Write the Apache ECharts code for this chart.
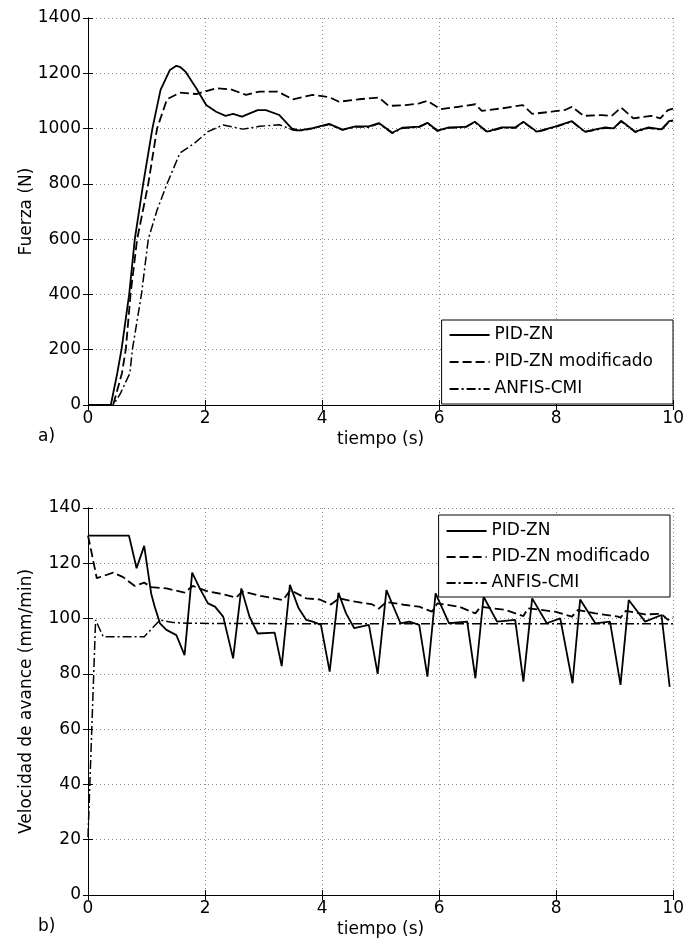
<!DOCTYPE html>
<html>
<head>
<meta charset="utf-8">
<script src="https://cdn.jsdelivr.net/npm/echarts@6/dist/echarts.min.js"></script>
<style>
html,body{margin:0;padding:0;background:#fff;}
#c{width:687px;height:944px;}
</style>
</head>
<body>
<div id="c"></div>
<script>
// ---- Data (time in s, values) ----
const seriesNames = ['PID-ZN', 'PID-ZN modificado', 'ANFIS-CMI'];
const xTicks = [0, 2, 4, 6, 8, 10];
const fuerzaTicks = [0, 200, 400, 600, 800, 1000, 1200, 1400];
const velTicks = [0, 20, 40, 60, 80, 100, 120, 140];

// (a) Fuerza (N)
const fuerzaPidZN = [[0,0],[0.39,0],[0.50,115],[0.574,203],[0.704,401],[0.80,600],[0.886,720],[0.943,800],[1.10,1000],[1.24,1140],[1.40,1212],[1.51,1227],[1.58,1222],[1.67,1205],[1.85,1146],[2.02,1085],[2.19,1061],[2.35,1046],[2.48,1053],[2.63,1043],[2.90,1067],[3.04,1067],[3.27,1049],[3.48,1001],[3.61,993],[3.84,1002],[4.12,1017],[4.35,996],[4.57,1008],[4.80,1008],[4.97,1020],[5.20,985],[5.37,1003],[5.66,1007],[5.80,1021],[5.97,993],[6.17,1004],[6.45,1006],[6.61,1025],[6.82,989],[7.07,1004],[7.30,1004],[7.44,1025],[7.67,989],[7.98,1007],[8.27,1027],[8.49,989],[8.84,1004],[8.98,1001],[9.11,1028],[9.35,989],[9.58,1004],[9.80,997],[9.93,1027],[10,1030]];
const fuerzaPidMod = [[0,0],[0.43,0],[0.58,115],[0.647,203],[0.727,401],[0.84,600],[0.954,720],[1.03,800],[1.18,1000],[1.35,1106],[1.57,1130],[1.85,1125],[2.19,1146],[2.44,1142],[2.70,1122],[2.93,1134],[3.24,1134],[3.50,1106],[3.84,1122],[4.12,1114],[4.29,1097],[4.63,1106],[4.97,1112],[5.14,1082],[5.43,1085],[5.66,1091],[5.80,1100],[6.03,1070],[6.34,1079],[6.62,1088],[6.73,1064],[7.07,1073],[7.43,1085],[7.59,1053],[7.92,1061],[8.15,1067],[8.27,1079],[8.47,1046],[8.78,1049],[8.95,1046],[9.11,1076],[9.32,1037],[9.63,1046],[9.78,1037],[9.91,1067],[10,1072]];
const fuerzaAnfis = [[0,0],[0.43,0],[0.55,40],[0.715,115],[0.76,203],[0.914,401],[1.03,600],[1.18,705],[1.35,800],[1.57,911],[1.82,947],[2.05,989],[2.31,1013],[2.65,998],[2.93,1008],[3.27,1014],[3.50,995],[3.61,992],[3.84,1000],[4.12,1015],[4.35,995],[4.57,1006],[4.80,1005],[4.97,1018],[5.20,983],[5.37,1001],[5.66,1005],[5.80,1019],[5.97,991],[6.17,1002],[6.45,1004],[6.61,1023],[6.82,987],[7.07,1002],[7.30,1002],[7.44,1023],[7.67,987],[7.98,1005],[8.27,1025],[8.49,987],[8.84,1002],[8.98,999],[9.11,1026],[9.35,987],[9.58,1002],[9.80,995],[9.93,1025],[10,1028]];

// (b) Velocidad de avance (mm/min)
const velPidZN = [[0,130],[0.70,130],[0.83,118.2],[0.96,126.3],[1.08,109],[1.14,104.3],[1.23,98.3],[1.34,95.9],[1.51,94],[1.65,86.8],[1.78,116.6],[1.91,110.9],[2.05,105.5],[2.17,104.3],[2.31,100.7],[2.48,85.6],[2.62,110.9],[2.76,100.7],[2.90,94.6],[3.19,94.9],[3.31,82.8],[3.45,112.2],[3.60,103.7],[3.73,99.5],[3.84,98.9],[3.98,97.7],[4.13,80.8],[4.28,109.3],[4.41,101.9],[4.55,96.5],[4.80,97.7],[4.95,80],[5.10,110.3],[5.34,98.3],[5.49,98.9],[5.66,97.7],[5.80,79],[5.94,109.1],[6.17,98.3],[6.48,98.9],[6.62,78.4],[6.76,107.9],[6.99,98.9],[7.30,99.5],[7.44,77.2],[7.59,107.3],[7.84,98.3],[8.07,100.1],[8.28,76.6],[8.41,106.9],[8.67,98.3],[8.92,98.9],[9.10,76],[9.24,106.7],[9.52,98.9],[9.80,101.3],[9.94,75.3]];
const velPidMod = [[0,130],[0.05,125],[0.15,114.6],[0.43,116.6],[0.60,115],[0.80,111.8],[0.96,113],[1.08,111.4],[1.34,110.9],[1.65,109.4],[1.79,111.8],[2.02,110],[2.31,108.8],[2.53,107.6],[2.64,109.8],[2.95,108.2],[3.33,106.7],[3.46,110.3],[3.73,107.3],[3.96,106.9],[4.15,105.1],[4.29,107.3],[4.57,106.1],[4.86,105.1],[4.97,103.6],[5.10,106],[5.40,105],[5.66,104.3],[5.88,102.5],[5.97,105.5],[6.34,104.3],[6.62,101.9],[6.71,104.3],[7.14,103.1],[7.44,100.9],[7.52,103.7],[7.98,102.5],[8.27,100.7],[8.37,103.1],[8.67,101.9],[9.06,100.7],[9.10,100.3],[9.19,102.8],[9.52,101.5],[9.80,101.7],[9.91,99.5],[10,100.5]];
const velAnfis = [[0,21],[0.13,99.5],[0.26,93.4],[0.96,93.4],[1.23,99.5],[1.45,98.6],[1.68,98.3],[2.5,98.2],[5,98.1],[7.5,98.1],[10,98.1]];

// ---- Chart ----
const FONT = 'DejaVu Sans';
const FS = 17;
const chart = echarts.init(document.getElementById('c'), null, {renderer: 'canvas'});
const plain = v => String(v);

function mainX(gi) {
  return {
    type: 'value', gridIndex: gi, position: 'bottom',
    min: xTicks[0], max: xTicks[xTicks.length - 1], interval: xTicks[1] - xTicks[0],
    name: 'tiempo (s)', nameLocation: 'middle', nameGap: 26,
    nameTextStyle: {fontFamily: FONT, fontSize: FS, color: '#000'},
    axisLine: {show: true, lineStyle: {color: '#000', width: 1}},
    axisTick: {show: true, inside: true, length: 5, lineStyle: {color: '#000'}},
    axisLabel: {show: true, margin: 5, formatter: plain, fontFamily: FONT, fontSize: FS, color: '#000'},
    splitLine: {show: true, lineStyle: {color: '#888', type: [1, 3], width: 1}}
  };
}
function mirrorX(gi) {
  return {
    type: 'value', gridIndex: gi, position: 'top',
    min: xTicks[0], max: xTicks[xTicks.length - 1], interval: xTicks[1] - xTicks[0],
    axisLine: {show: true, lineStyle: {color: '#000', width: 1}},
    axisTick: {show: true, inside: true, length: 5, lineStyle: {color: '#000'}},
    axisLabel: {show: false}, splitLine: {show: false}
  };
}
function mainY(gi, ticks, name) {
  return {
    type: 'value', gridIndex: gi, position: 'left',
    min: ticks[0], max: ticks[ticks.length - 1], interval: ticks[1] - ticks[0],
    name: name, nameLocation: 'middle', nameGap: 53, nameRotate: 90, nameMoveOverlap: false,
    nameTextStyle: {fontFamily: FONT, fontSize: FS, color: '#000'},
    axisLine: {show: true, lineStyle: {color: '#000', width: 1}},
    axisTick: {show: true, inside: true, length: 5, lineStyle: {color: '#000'}},
    axisLabel: {show: true, margin: 7, formatter: plain, fontFamily: FONT, fontSize: FS, color: '#000'},
    splitLine: {show: true, lineStyle: {color: '#888', type: [1, 3], width: 1}}
  };
}
function mirrorY(gi, ticks) {
  return {
    type: 'value', gridIndex: gi, position: 'right',
    min: ticks[0], max: ticks[ticks.length - 1], interval: ticks[1] - ticks[0],
    axisLine: {show: true, lineStyle: {color: '#000', width: 1}},
    axisTick: {show: true, inside: true, length: 5, lineStyle: {color: '#000'}},
    axisLabel: {show: false}, splitLine: {show: false}
  };
}
const styles = [
  {type: 'solid', width: 1.8},
  {type: [9, 4], width: 1.8},
  {type: [9, 3, 2, 3], width: 1.5}
];
function mk(name, data, xi, yi, st) {
  return {
    type: 'line', name: name, data: data, xAxisIndex: xi, yAxisIndex: yi,
    showSymbol: false, symbol: 'none', animation: false,
    lineStyle: {color: '#000', width: st.width, type: st.type},
    itemStyle: {color: '#000'}
  };
}
function legendAt(top, right, pad, gap) {
  return {
    data: seriesNames, orient: 'vertical', top: top, right: right,
    backgroundColor: '#fff', borderColor: '#000', borderWidth: 1,
    padding: pad, itemWidth: 40, itemHeight: 14, itemGap: gap, align: 'left',
    selectedMode: false,
    itemStyle: {opacity: 0, borderWidth: 0},
    textStyle: {fontFamily: FONT, fontSize: FS, color: '#000', lineHeight: 20}
  };
}

chart.setOption({
  animation: false,
  backgroundColor: '#fff',
  grid: [
    {left: 88, width: 587, top: 18, height: 387},
    {left: 88, width: 587, top: 508, height: 387}
  ],
  xAxis: [mainX(0), mirrorX(0), mainX(1), mirrorX(1)],
  yAxis: [mainY(0, fuerzaTicks, 'Fuerza (N)'), mirrorY(0, fuerzaTicks),
          mainY(1, velTicks, 'Velocidad de avance (mm/min)'), mirrorY(1, velTicks)],
  legend: [legendAt(320, 14, [5, 20, 5, 7], 7), legendAt(515, 17, [6, 20, 4, 7], 6)],
  graphic: [
    {type: 'text', left: 38, top: 428, style: {text: 'a)', font: FS + 'px "' + FONT + '"', fill: '#000'}},
    {type: 'text', left: 38, top: 918, style: {text: 'b)', font: FS + 'px "' + FONT + '"', fill: '#000'}}
  ],
  series: [
    mk(seriesNames[0], fuerzaPidZN, 0, 0, styles[0]),
    mk(seriesNames[1], fuerzaPidMod, 0, 0, styles[1]),
    mk(seriesNames[2], fuerzaAnfis, 0, 0, styles[2]),
    mk(seriesNames[0], velPidZN, 2, 2, styles[0]),
    mk(seriesNames[1], velPidMod, 2, 2, styles[1]),
    mk(seriesNames[2], velAnfis, 2, 2, styles[2])
  ]
});
</script>
</body>
</html>
